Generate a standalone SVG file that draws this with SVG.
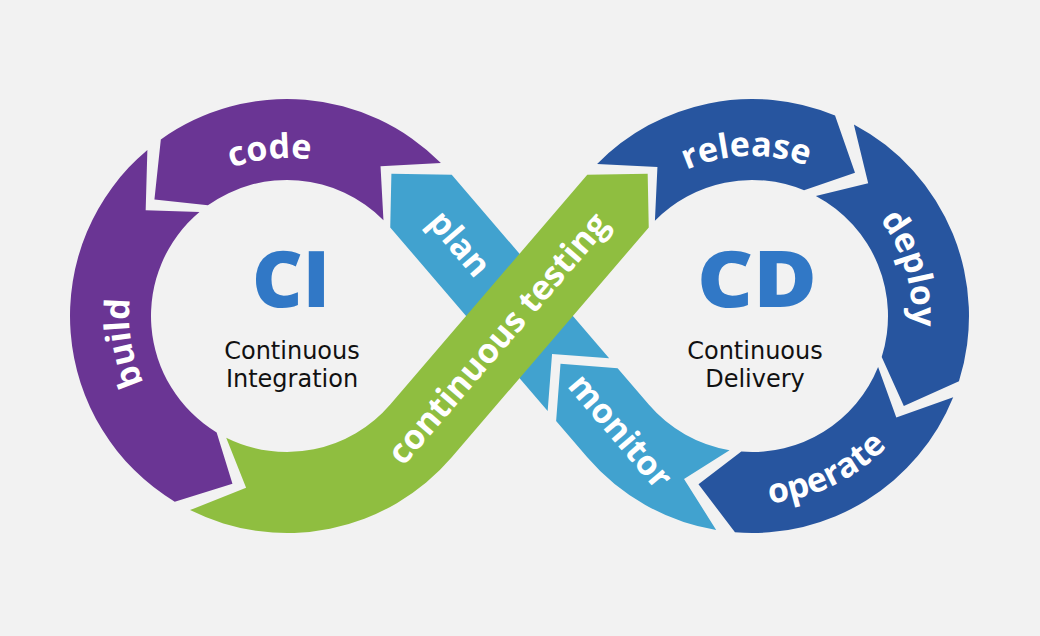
<svg xmlns="http://www.w3.org/2000/svg" width="1040" height="636" viewBox="0 0 1040 636">
  <style>
    .purple { fill: #6a3594; }
    .green { fill: #8fbe40; }
    .lblue { fill: #41a2cf; }
    .dblue { fill: #27559f; }
    .lbl { fill: #ffffff; font-family: "Open Sans", "Liberation Sans", sans-serif; font-weight: 700; font-size: 34px; }
    .big { fill: #3178c6; font-family: "Open Sans", "Liberation Sans", sans-serif; font-weight: 800; font-size: 78px; }
    .sub { fill: #111111; font-family: "DejaVu Sans", "Liberation Sans", sans-serif; font-size: 24px; }
  </style>
  <defs>
    <path id="arc-code" d="M 156.01 227.65 A 158 158 0 0 1 396.76 202.34"/>
    <path id="arc-build" d="M 206.57 452.0 A 158 158 0 0 1 167.04 213.18"/>
    <path id="arc-release" d="M 625.92 217.49 A 160 160 0 0 1 870.90 208.94"/>
    <path id="arc-deploy" d="M 815.29 169.05 A 160 160 0 0 1 885.73 403.84"/>
    <path id="arc-operate" d="M 689.86 493.43 A 188 188 0 0 0 929.43 378.14"/>
  </defs>
  <rect x="0" y="0" width="1040" height="636" fill="#f2f2f2"/>

  <g id="plan">
    <path class="lblue" d="M 552.05 353.96 L 609.16 358.34 L 451.74 174.75 L 391.40 173.69 L 390.24 227.47 L 547.66 411.06 Z"/>
    <text class="lbl" x="450.72" y="251.15" text-anchor="middle" transform="rotate(49.39 450.72 251.15)">plan</text>
  </g>

  <g id="monitor">
    <path class="lblue" d="M 716.18 530.02 A 217 217 0 0 1 587.27 457.25 L 556.12 420.93 L 560.51 363.83 L 617.62 368.21 L 648.76 404.53 A 136 136 0 0 0 729.55 450.14 L 684.03 478.89 Z"/>
    <text class="lbl" x="611.5" y="438.7" text-anchor="middle" transform="rotate(49.39 611.5 438.7)">monitor</text>
  </g>

  <g id="code">
    <path class="purple" d="M 440.91 163.03 A 217 217 0 0 0 160.83 139.45 L 154.43 199.48 L 207.93 205.35 A 136 136 0 0 1 383.46 220.13 L 380.53 166.32 Z"/>
    <text class="lbl"><textPath href="#arc-code" startOffset="50%" text-anchor="middle">code</textPath></text>
  </g>

  <g id="build">
    <path class="purple" d="M 147.37 149.89 A 217 217 0 0 0 174.75 501.71 L 232.46 483.86 L 216.65 432.39 A 136 136 0 0 1 199.49 211.89 L 145.67 210.27 Z"/>
    <text class="lbl"><textPath href="#arc-build" startOffset="50%" text-anchor="middle">build</textPath></text>
  </g>

  <g id="release">
    <path class="dblue" d="M 597.09 164.04 A 217 217 0 0 1 835.04 115.52 L 855.0 172.67 L 804.05 190.35 A 136 136 0 0 0 654.92 220.76 L 657.43 166.98 Z"/>
    <text class="lbl"><textPath href="#arc-release" startOffset="50%" text-anchor="middle">release</textPath></text>
  </g>

  <g id="deploy">
    <path class="dblue" d="M 853.88 124.40 A 217 217 0 0 1 958.96 381.25 L 903.84 405.98 L 881.71 356.90 A 136 136 0 0 0 815.85 195.92 L 868.18 183.13 Z"/>
    <text class="lbl"><textPath href="#arc-deploy" startOffset="50%" text-anchor="middle">deploy</textPath></text>
  </g>

  <g id="operate">
    <path class="dblue" d="M 953.20 397.29 A 217 217 0 0 1 734.97 532.33 L 698.48 484.19 L 741.33 451.58 A 136 136 0 0 0 878.10 366.95 L 896.31 417.61 Z"/>
    <text class="lbl"><textPath href="#arc-operate" startOffset="50%" text-anchor="middle">operate</textPath></text>
  </g>

  <g id="continuous-testing">
    <path class="green" d="M 190.01 510.12 A 217 217 0 0 0 451.73 457.25 L 648.76 227.47 L 647.67 173.64 L 587.27 174.75 L 390.24 404.53 A 136 136 0 0 1 226.21 437.66 L 246.10 487.70 Z"/>
    <text class="lbl" x="506.91" y="346.04" text-anchor="middle" transform="rotate(-49.39 506.91 346.04)">continuous testing</text>
  </g>

  <g id="ci">
    <text class="big" x="291" y="307" text-anchor="middle" textLength="78" lengthAdjust="spacingAndGlyphs">CI</text>
    <text class="sub" x="292" y="359" text-anchor="middle">Continuous</text>
    <text class="sub" x="292" y="387" text-anchor="middle">Integration</text>
  </g>

  <g id="cd">
    <text class="big" x="757" y="307" text-anchor="middle" textLength="120" lengthAdjust="spacingAndGlyphs">CD</text>
    <text class="sub" x="755" y="359" text-anchor="middle">Continuous</text>
    <text class="sub" x="755" y="387" text-anchor="middle">Delivery</text>
  </g>

  <g id="connectors"/>
</svg>
